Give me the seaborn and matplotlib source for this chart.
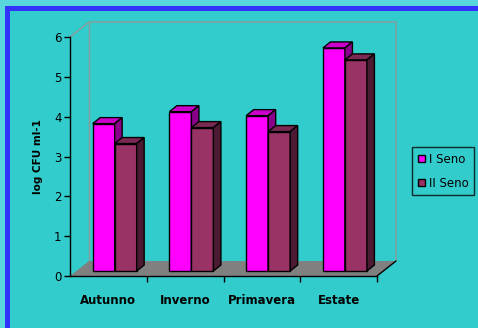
import numpy as np
import pandas as pd
import matplotlib
matplotlib.use("Agg")
import matplotlib.pyplot as plt
import seaborn as sns
from matplotlib.patches import Polygon, Rectangle, Patch

# ---- data ----
seasons = ["Autunno", "Inverno", "Primavera", "Estate"]
seno_1 = [3.7, 4.0, 3.9, 5.6]
seno_2 = [3.2, 3.6, 3.5, 5.3]
series = ["I Seno", "II Seno"]
yticks = [0, 1, 2, 3, 4, 5, 6]
ylabel = "log CFU ml-1"

df = pd.DataFrame({
    "Stagione": seasons * 2,
    "Valore": seno_1 + seno_2,
    "Serie": [series[0]] * len(seasons) + [series[1]] * len(seasons),
})

front_cols = ["#FF00FF", "#993366"]
top_cols = ["#CC00CC", "#7A2952"]
side_cols = ["#8A008A", "#4D1A33"]
BG = "#33CCCC"

W, H = 478, 328
sns.set_style("white")
plt.rcParams["font.family"] = ["DejaVu Sans"]
plt.rcParams["text.color"] = "black"
plt.rcParams["axes.labelcolor"] = "black"
plt.rcParams["xtick.color"] = "black"
plt.rcParams["ytick.color"] = "black"
fig = plt.figure(figsize=(W / 100, H / 100), dpi=100)
fig.patch.set_facecolor(BG)

# frame decorations
def fr(x, y, w, h, c):
    fig.patches.append(Rectangle((x / W, 1 - (y + h) / H), w / W, h / H,
                                 transform=fig.transFigure, facecolor=c,
                                 edgecolor="none", zorder=0))
fr(0, 0, W, 6, "#58D8DC")
fr(0, 0, 5, H, "#58D8DC")
fr(5, 6, W - 5, 5, "#3333FF")
fr(5, 6, 5, H - 6, "#3333FF")

ax_l, ax_r, ax_t, ax_b = 70, 377, 37, 276
ax = fig.add_axes([ax_l / W, 1 - ax_b / H, (ax_r - ax_l) / W, (ax_b - ax_t) / H])
ax.set_facecolor("none")

sns.barplot(data=df, x="Stagione", y="Valore", hue="Serie", hue_order=series,
            palette=front_cols, width=0.573, gap=0, edgecolor="black",
            linewidth=1, errorbar=None, legend=False, ax=ax, saturation=1)

ax.set_xlim(-0.5, len(seasons) - 0.5)
ax.set_ylim(0, 6)

ppx = (ax_r - ax_l) / len(seasons)
ppy = (ax_b - ax_t) / 6.0
fx, fy = 6.3 / ppx, 5 / ppy      # front face offset
bx, by = 7.5 / ppx, 6 / ppy      # bar depth
Dx, Dy = 19 / ppx, 15 / ppy      # full depth

x0a, x1a = -0.5, len(seasons) - 0.5
# floor
ax.add_patch(Polygon([(x0a, 0), (x1a, 0), (x1a + Dx, Dy), (x0a + Dx, Dy)],
                     closed=True, facecolor="#808080", edgecolor="none",
                     zorder=1, clip_on=False))
ax.plot([x1a, x1a + Dx], [0, Dy], color="black", lw=1, zorder=1.5, clip_on=False)
# back wall
wall = "#8a9a9a"
ax.plot([x0a, x0a + Dx, x1a + Dx, x1a + Dx], [6, 6 + Dy, 6 + Dy, Dy],
        color=wall, lw=1, zorder=0.5, clip_on=False)
ax.plot([x0a + Dx, x0a + Dx], [Dy, 6 + Dy], color=wall, lw=1, zorder=0.5,
        clip_on=False)

for si, cont in enumerate(ax.containers):
    z = 3 + si
    for p in cont.patches:
        x0, w, h = p.get_x(), p.get_width(), p.get_height()
        p.set_x(x0 + fx)
        p.set_y(fy)
        p.set_zorder(z)
        p.set_clip_on(False)
        xa, xb = x0 + fx, x0 + fx + w
        top = [(xa, h + fy), (xb, h + fy), (xb + bx, h + fy + by), (xa + bx, h + fy + by)]
        side = [(xb, fy), (xb + bx, fy + by), (xb + bx, h + fy + by), (xb, h + fy)]
        ax.add_patch(Polygon(top, closed=True, facecolor=top_cols[si],
                             edgecolor="black", lw=1, zorder=z, clip_on=False))
        ax.add_patch(Polygon(side, closed=True, facecolor=side_cols[si],
                             edgecolor="black", lw=1, zorder=z, clip_on=False))

for s in ["top", "right"]:
    ax.spines[s].set_visible(False)
for s in ["left", "bottom"]:
    ax.spines[s].set_color("black")
    ax.spines[s].set_linewidth(1)
    ax.spines[s].set_zorder(2)

ax.set_yticks(yticks)
ax.set_yticklabels([str(v) for v in yticks], fontsize=8.5)
ax.tick_params(axis="y", direction="out", length=4, width=1, color="black", pad=2, left=True)
ax.set_xticks(range(len(seasons)))
ax.set_xticklabels(seasons, fontsize=8.5, fontweight="bold")
ax.tick_params(axis="x", length=0, pad=13)
ax.set_xticks([i + 0.5 for i in range(len(seasons))], minor=True)
ax.tick_params(axis="x", which="minor", direction="out", length=4, width=1, color="black", bottom=True)
ax.set_xlabel("")
ax.set_ylabel(ylabel, fontsize=7.5, fontweight="bold", labelpad=8)

handles = [Patch(facecolor=front_cols[i], edgecolor="black", lw=1) for i in range(2)]
leg = fig.legend(handles=handles, labels=series, loc="upper left",
                 bbox_to_anchor=(412 / W, 1 - 147 / H), frameon=True,
                 fancybox=False, fontsize=8.5, handlelength=0.6, handleheight=0.6,
                 handletextpad=0.3, labelspacing=0.9, borderpad=0.5,
                 borderaxespad=0)
leg.get_frame().set_facecolor(BG)
leg.get_frame().set_edgecolor("black")
leg.get_frame().set_linewidth(1)

fig.savefig("out.png", dpi=100, facecolor=fig.get_facecolor())
